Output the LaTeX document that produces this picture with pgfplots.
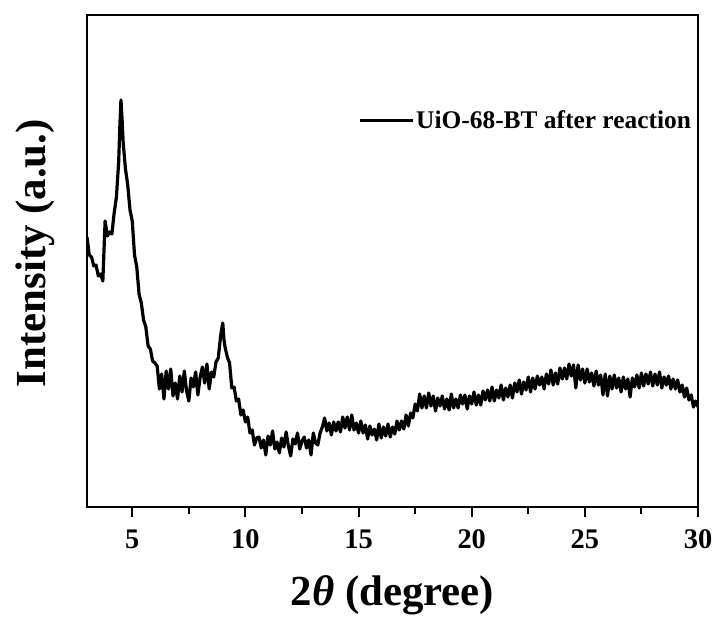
\documentclass[border=0pt]{standalone}
\usepackage{fontspec}
\setmainfont{Liberation Serif}
\usepackage{pgfplots}
\pgfplotsset{compat=1.18}
\begin{document}
\begin{tikzpicture}
\begin{axis}[
  scale only axis,
  width=611bp, height=492bp,
  xmin=3, xmax=30, ymin=0, ymax=492,
  xtick={5,10,15,20,25,30},
  minor x tick num=1,
  ytick=\empty,
  xtick pos=bottom,
  tick align=outside,
  major tick length=10bp,
  minor tick length=7bp,
  every tick/.style={line width=2bp, black},
  axis line style={line width=2.4bp},
  /pgf/number format/assume math mode=true,
  xticklabel style={font=\fontsize{28.5}{28.5}\selectfont\bfseries, yshift=-9bp},
  xlabel={2\textit{θ} (degree)},
  ylabel={Intensity (a.u.)},
  label style={font=\fontsize{43}{43}\selectfont\bfseries},
  xlabel style={at={(axis description cs:0.5,-0.179)}, anchor=center},
  ylabel style={at={(axis description cs:-0.085,0.516)}, anchor=center},
  legend style={at={(axis description cs:0.992,0.785)}, anchor=east, draw=none, fill=none,
    font=\fontsize{25.5}{25.5}\selectfont\bfseries, inner sep=0pt},
  legend image code/.code={\draw[black, line width=3bp] (-6bp,0bp) -- (47bp,0bp);},
  legend cell align=left,
]
\addplot[black, line width=3.2bp, line join=round] coordinates {
(3.0,270) (3.1,252) (3.2,250) (3.3,241) (3.4,242) (3.5,231) (3.6,233) (3.7,226) (3.8,286) (3.9,271)
(4.0,275) (4.1,273) (4.2,294) (4.3,310) (4.4,345) (4.45,380) (4.5,407) (4.55,388) (4.6,364) (4.7,338)
(4.8,322) (4.9,297) (5.0,286) (5.1,252) (5.2,240) (5.3,213) (5.4,204) (5.5,187) (5.6,180) (5.7,161)
(5.8,158) (5.9,146) (6.0,144) (6.1,141) (6.2,118) (6.3,133) (6.4,108) (6.5,136) (6.6,118) (6.7,138)
(6.8,111) (6.9,124) (7.0,108) (7.1,131) (7.2,115) (7.3,136) (7.4,116) (7.5,106) (7.6,129) (7.7,120)
(7.8,135) (7.9,112) (8.0,130) (8.1,140) (8.2,124) (8.3,143) (8.4,118) (8.5,135) (8.6,130) (8.7,145)
(8.8,149) (8.9,170) (8.95,178) (9.0,184) (9.05,168) (9.1,160) (9.2,150) (9.3,144) (9.4,119) (9.5,120)
(9.6,106) (9.7,108) (9.8,92) (9.9,97) (10.0,85) (10.1,90) (10.2,74) (10.3,77) (10.4,62) (10.5,69)
(10.6,70) (10.7,59) (10.8,67) (10.9,52) (11.0,71) (11.1,62) (11.2,76) (11.3,58) (11.4,65) (11.5,54)
(11.6,69) (11.7,60) (11.8,75) (11.9,61) (12.0,51) (12.1,68) (12.2,63) (12.3,74) (12.4,58) (12.5,66)
(12.6,70) (12.7,59) (12.8,67) (12.9,52) (13.0,74) (13.1,64) (13.2,62) (13.3,74) (13.4,80) (13.5,89)
(13.6,76) (13.7,84) (13.8,72) (13.9,85) (14.0,76) (14.1,85) (14.2,75) (14.3,90) (14.4,79) (14.5,90)
(14.6,77) (14.7,92) (14.8,77) (14.9,84) (15.0,74) (15.1,86) (15.2,74) (15.3,82) (15.4,68) (15.5,81)
(15.6,72) (15.7,78) (15.8,67) (15.9,83) (16.0,69) (16.1,80) (16.2,71) (16.3,83) (16.4,70) (16.5,80)
(16.6,73) (16.7,86) (16.8,77) (16.9,86) (17.0,78) (17.1,92) (17.2,81) (17.3,94) (17.4,89) (17.5,103)
(17.6,96) (17.7,113) (17.8,99) (17.9,111) (18.0,99) (18.1,114) (18.2,101) (18.3,111) (18.4,96) (18.5,109)
(18.6,101) (18.7,111) (18.8,98) (18.9,108) (19.0,97) (19.1,113) (19.2,99) (19.3,108) (19.4,99) (19.5,112)
(19.6,103) (19.7,112) (19.8,98) (19.9,111) (20.0,103) (20.1,115) (20.2,102) (20.3,112) (20.4,102) (20.5,116)
(20.6,107) (20.7,117) (20.8,106) (20.9,120) (21.0,106) (21.1,117) (21.2,109) (21.3,122) (21.4,107) (21.5,119)
(21.6,110) (21.7,122) (21.8,109) (21.9,124) (22.0,115) (22.1,127) (22.2,113) (22.3,125) (22.4,117) (22.5,130)
(22.6,115) (22.7,129) (22.8,118) (22.9,131) (23.0,122) (23.1,130) (23.2,118) (23.3,133) (23.4,123) (23.5,137)
(23.6,122) (23.7,134) (23.8,123) (23.9,139) (24.0,128) (24.1,139) (24.2,128) (24.3,143) (24.4,131) (24.5,142)
(24.6,119) (24.7,142) (24.8,127) (24.9,138) (25.0,124) (25.1,138) (25.2,125) (25.3,134) (25.4,121) (25.5,136)
(25.6,122) (25.7,132) (25.8,112) (25.9,133) (26.0,111) (26.1,131) (26.2,118) (26.3,132) (26.4,119) (26.5,129)
(26.6,115) (26.7,130) (26.8,118) (26.9,128) (27.0,110) (27.1,129) (27.2,120) (27.3,132) (27.4,119) (27.5,134)
(27.6,121) (27.7,133) (27.8,123) (27.9,135) (28.0,121) (28.1,133) (28.2,122) (28.3,135) (28.4,119) (28.5,130)
(28.6,122) (28.7,131) (28.8,118) (28.9,128) (29.0,118) (29.1,127) (29.2,115) (29.3,122) (29.4,110) (29.5,119)
(29.6,107) (29.7,112) (29.8,100) (29.9,106) (30.0,100)
};
\addlegendentry{UiO-68-BT after reaction}
\end{axis}
\pgfresetboundingbox
\path ([xshift=-87bp,yshift=-110bp]current axis.south west) rectangle ([xshift=17bp,yshift=15bp]current axis.north east);
\end{tikzpicture}
\end{document}
